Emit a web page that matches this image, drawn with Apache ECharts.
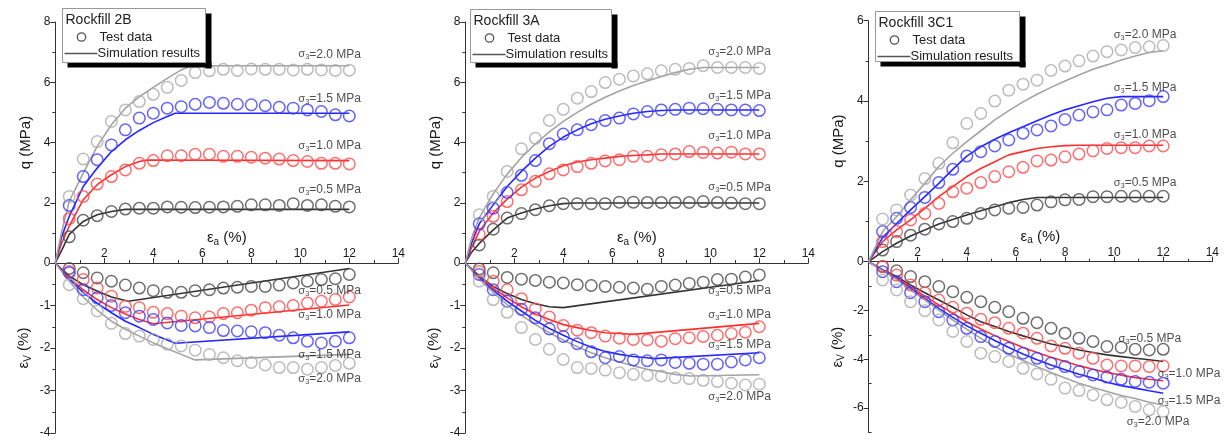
<!DOCTYPE html>
<html><head><meta charset="utf-8">
<script src="https://cdn.jsdelivr.net/npm/echarts@6/dist/echarts.min.js"></script>
<style>html,body{margin:0;padding:0;background:#fff}#c{width:1224px;height:441px}</style>
</head><body><div id="c"></div>
<script>
// ---------- DATA ----------
const strain = [0.57,1.14,1.71,2.29,2.86,3.43,4.00,4.57,5.14,5.71,6.29,6.86,7.43,8.00,8.57,9.14,9.71,10.29,10.86,11.43,12.00];
const pressures = ['0.5','1.0','1.5','2.0'];
const panelTitles = ['Rockfill 2B','Rockfill 3A','Rockfill 3C1'];

// Rockfill 2B — test data
const q2B_05 = [0.87,1.42,1.57,1.71,1.79,1.82,1.82,1.86,1.85,1.84,1.85,1.86,1.88,1.93,1.93,1.91,1.97,1.91,1.93,1.88,1.86];
const q2B_10 = [1.47,2.21,2.62,2.87,3.09,3.31,3.40,3.56,3.56,3.61,3.61,3.54,3.54,3.51,3.48,3.45,3.40,3.37,3.31,3.31,3.29];
const q2B_15 = [1.91,2.87,3.43,3.92,4.42,4.81,4.97,5.14,5.19,5.27,5.33,5.30,5.27,5.25,5.22,5.17,5.14,5.08,5.03,4.92,4.88];
const q2B_20 = [2.21,3.45,4.03,4.70,5.08,5.36,5.60,5.83,6.06,6.32,6.38,6.43,6.39,6.44,6.43,6.43,6.41,6.43,6.41,6.39,6.40];
const ev2B_05 = [-0.13,-0.23,-0.35,-0.43,-0.52,-0.59,-0.65,-0.69,-0.69,-0.65,-0.63,-0.59,-0.57,-0.55,-0.55,-0.52,-0.47,-0.43,-0.39,-0.37,-0.27];
const ev2B_10 = [-0.20,-0.39,-0.59,-0.78,-1.02,-1.05,-1.16,-1.19,-1.25,-1.29,-1.27,-1.19,-1.17,-1.11,-1.05,-1.03,-1.00,-0.94,-0.90,-0.86,-0.80];
const ev2B_15 = [-0.23,-0.63,-0.82,-1.00,-1.17,-1.25,-1.33,-1.41,-1.47,-1.48,-1.52,-1.59,-1.60,-1.62,-1.64,-1.70,-1.76,-1.84,-1.88,-1.84,-1.76];
const ev2B_20 = [-0.51,-0.84,-1.13,-1.42,-1.66,-1.72,-1.80,-1.91,-1.95,-2.05,-2.15,-2.23,-2.30,-2.34,-2.40,-2.46,-2.46,-2.50,-2.46,-2.41,-2.36];
// Rockfill 2B — simulation
const simQ2B_05 = [[0,0],[0.25,0.4],[0.57,0.95],[1.14,1.38],[1.71,1.60],[2.29,1.71],[2.86,1.78],[12,1.78]];
const simQ2B_10 = [[0,0],[0.25,0.65],[0.57,1.22],[1.14,2.10],[1.71,2.60],[2.29,2.93],[2.86,3.20],[3.43,3.37],[3.75,3.42],[12,3.40]];
const simQ2B_15 = [[0,0],[0.25,0.85],[0.57,1.55],[1.14,2.54],[1.71,3.15],[2.29,3.70],[2.86,4.09],[3.43,4.40],[4.0,4.66],[4.57,4.86],[4.9,4.97],[12,4.97]];
const simQ2B_20 = [[0,0],[0.25,1.0],[0.57,2.05],[1.14,2.98],[1.71,3.87],[2.29,4.59],[2.86,5.14],[3.43,5.52],[4.0,5.83],[4.57,6.13],[5.14,6.41],[5.55,6.55],[12,6.55]];
const simEv2B_05 = [[0,0],[0.57,-0.31],[1.14,-0.51],[1.71,-0.66],[2.29,-0.80],[2.98,-0.90],[12,-0.13]];
const simEv2B_10 = [[0,0],[0.57,-0.35],[1.14,-0.63],[1.71,-0.86],[2.29,-1.05],[2.86,-1.20],[3.43,-1.33],[4.0,-1.43],[12,-0.99]];
const simEv2B_15 = [[0,0],[0.57,-0.38],[1.14,-0.69],[1.71,-0.95],[2.29,-1.17],[2.86,-1.37],[3.43,-1.52],[4.0,-1.68],[4.57,-1.81],[4.9,-1.89],[12,-1.62]];
const simEv2B_20 = [[0,0],[0.57,-0.43],[1.14,-0.80],[1.71,-1.11],[2.29,-1.37],[2.86,-1.56],[3.43,-1.72],[4.0,-1.88],[4.57,-2.02],[5.14,-2.15],[5.7,-2.28],[12,-2.15]];

// Rockfill 3A — test data
const q3A_05 = [0.60,1.12,1.49,1.64,1.77,1.90,1.97,1.97,1.97,1.97,2.02,2.02,2.01,2.01,2.01,2.01,2.04,2.01,1.99,1.97,1.97];
const q3A_10 = [0.95,1.55,2.04,2.43,2.71,2.96,3.09,3.20,3.31,3.39,3.43,3.54,3.54,3.59,3.62,3.70,3.67,3.65,3.68,3.62,3.62];
const q3A_15 = [1.30,1.82,2.34,2.91,3.40,3.96,4.28,4.42,4.59,4.73,4.81,4.95,5.03,5.08,5.10,5.14,5.12,5.10,5.08,5.08,5.06];
const q3A_20 = [1.60,2.21,3.04,3.79,4.14,4.73,5.10,5.47,5.69,5.99,6.10,6.21,6.28,6.38,6.43,6.46,6.55,6.49,6.49,6.49,6.46];
const ev3A_05 = [-0.14,-0.23,-0.34,-0.38,-0.41,-0.45,-0.47,-0.51,-0.53,-0.55,-0.57,-0.59,-0.62,-0.55,-0.52,-0.48,-0.45,-0.39,-0.38,-0.33,-0.28];
const ev3A_10 = [-0.20,-0.43,-0.63,-0.84,-1.08,-1.27,-1.47,-1.58,-1.64,-1.72,-1.77,-1.80,-1.81,-1.84,-1.78,-1.76,-1.73,-1.70,-1.66,-1.63,-1.50];
const ev3A_15 = [-0.27,-0.63,-0.90,-1.09,-1.29,-1.55,-1.73,-1.90,-2.09,-2.23,-2.20,-2.28,-2.30,-2.28,-2.34,-2.36,-2.38,-2.38,-2.33,-2.28,-2.23];
const ev3A_20 = [-0.43,-0.86,-1.16,-1.52,-1.80,-2.03,-2.27,-2.46,-2.48,-2.52,-2.58,-2.62,-2.64,-2.66,-2.70,-2.72,-2.76,-2.79,-2.83,-2.87,-2.85];
// Rockfill 3A — simulation
const simQ3A_05 = [[0,0],[0.25,0.35],[0.57,0.65],[1.14,1.10],[1.71,1.49],[2.29,1.66],[2.86,1.79],[3.43,1.90],[4.0,1.97],[4.5,1.99],[12,1.99]];
const simQ3A_10 = [[0,0],[0.25,0.5],[0.57,1.05],[1.14,1.66],[1.71,2.12],[2.29,2.52],[2.86,2.82],[3.43,3.04],[4.0,3.23],[4.57,3.35],[5.14,3.43],[5.71,3.48],[6.29,3.54],[6.86,3.57],[7.43,3.59],[8.0,3.62],[12,3.62]];
const simQ3A_15 = [[0,0],[0.25,0.65],[0.57,1.30],[1.14,1.93],[1.71,2.54],[2.29,3.04],[2.86,3.48],[3.43,3.87],[4.0,4.18],[4.57,4.42],[5.14,4.62],[5.71,4.77],[6.29,4.88],[6.86,4.97],[7.43,5.03],[8.0,5.06],[8.57,5.08],[12,5.08]];
const simQ3A_20 = [[0,0],[0.25,0.8],[0.57,1.5],[1.14,2.3],[1.71,2.95],[2.29,3.5],[2.86,3.95],[3.43,4.35],[4.0,4.70],[4.57,5.0],[5.14,5.27],[5.71,5.5],[6.29,5.71],[6.86,5.89],[7.43,6.04],[8.0,6.19],[8.57,6.32],[9.14,6.43],[9.71,6.49],[12,6.49]];
const simEv3A_05 = [[0,0],[0.57,-0.31],[1.14,-0.55],[1.71,-0.72],[2.29,-0.86],[2.86,-0.96],[3.43,-1.03],[4.0,-1.05],[12,-0.41]];
const simEv3A_10 = [[0,0],[0.57,-0.33],[1.14,-0.59],[1.71,-0.82],[2.29,-1.03],[2.86,-1.20],[3.43,-1.33],[4.0,-1.45],[4.57,-1.52],[5.14,-1.59],[5.71,-1.64],[6.29,-1.66],[6.86,-1.68],[12,-1.42]];
const simEv3A_15 = [[0,0],[0.57,-0.35],[1.14,-0.64],[1.71,-0.90],[2.29,-1.13],[2.86,-1.35],[3.43,-1.54],[4.0,-1.70],[4.57,-1.85],[5.14,-1.98],[5.71,-2.08],[6.29,-2.15],[6.86,-2.20],[7.43,-2.23],[7.7,-2.25],[12,-2.11]];
const simEv3A_20 = [[0,0],[0.57,-0.38],[1.14,-0.69],[1.71,-0.98],[2.29,-1.23],[2.86,-1.45],[3.43,-1.64],[4.0,-1.81],[4.57,-1.97],[5.14,-2.11],[5.71,-2.23],[6.29,-2.33],[6.86,-2.42],[7.43,-2.50],[8.0,-2.56],[8.57,-2.62],[9.2,-2.66],[12,-2.63]];

// Rockfill 3C1 — test data
const q3C1_05 = [0.29,0.50,0.66,0.81,0.94,1.00,1.08,1.20,1.29,1.33,1.35,1.41,1.49,1.54,1.55,1.62,1.62,1.63,1.63,1.63,1.63];
const q3C1_10 = [0.50,0.75,1.04,1.20,1.45,1.74,1.83,1.97,2.12,2.24,2.35,2.51,2.53,2.61,2.68,2.76,2.82,2.84,2.84,2.88,2.88];
const q3C1_15 = [0.75,1.08,1.35,1.60,1.97,2.30,2.63,2.74,2.88,3.03,3.20,3.28,3.38,3.54,3.65,3.73,3.78,3.90,3.94,4.01,4.11];
const q3C1_20 = [1.06,1.29,1.66,2.07,2.45,2.96,3.44,3.69,4.00,4.27,4.42,4.52,4.76,4.87,5.00,5.12,5.23,5.27,5.33,5.35,5.38];
const ev3C1_05 = [-0.20,-0.37,-0.61,-0.82,-1.02,-1.23,-1.46,-1.64,-1.87,-2.05,-2.32,-2.50,-2.73,-2.93,-3.14,-3.27,-3.48,-3.51,-3.59,-3.62,-3.59];
const ev3C1_10 = [-0.20,-0.55,-0.95,-1.27,-1.57,-1.87,-2.11,-2.36,-2.50,-2.73,-2.93,-3.14,-3.45,-3.55,-3.75,-3.96,-4.23,-4.27,-4.27,-4.30,-4.27];
const ev3C1_15 = [-0.41,-0.82,-1.27,-1.64,-2.05,-2.39,-2.73,-3.07,-3.27,-3.55,-3.75,-3.96,-4.16,-4.30,-4.50,-4.64,-4.73,-4.82,-4.91,-4.94,-4.98];
const ev3C1_20 = [-0.75,-1.16,-1.64,-2.01,-2.39,-2.86,-3.27,-3.75,-3.89,-4.09,-4.37,-4.60,-4.82,-5.18,-5.28,-5.46,-5.66,-5.77,-5.93,-6.07,-6.14];
// Rockfill 3C1 — simulation
const simQ3C1_05 = [[0,0],[0.57,0.25],[1.14,0.46],[1.71,0.64],[2.29,0.79],[2.86,0.94],[3.43,1.05],[4.0,1.16],[4.57,1.27],[5.14,1.37],[5.71,1.47],[6.29,1.55],[6.86,1.60],[12,1.60]];
const simQ3C1_10 = [[0,0],[0.57,0.5],[1.14,0.79],[1.71,1.04],[2.29,1.33],[2.86,1.62],[3.43,1.87],[4.0,2.12],[4.57,2.32],[5.14,2.49],[5.71,2.66],[6.29,2.74],[6.86,2.82],[7.43,2.86],[8.0,2.89],[8.57,2.90],[12,2.90]];
const simQ3C1_15 = [[0,0],[0.57,0.6],[1.14,0.95],[1.71,1.29],[2.29,1.62],[2.86,1.95],[3.43,2.30],[4.0,2.63],[4.57,2.86],[5.14,3.05],[5.71,3.21],[6.29,3.36],[6.86,3.51],[7.43,3.65],[8.0,3.78],[8.57,3.88],[9.14,3.98],[9.71,4.07],[10.29,4.11],[12,4.11]];
const simQ3C1_20 = [[0,0],[0.57,0.75],[1.14,1.12],[1.71,1.54],[2.29,1.95],[2.86,2.37],[3.43,2.70],[4.0,2.99],[4.57,3.26],[5.14,3.53],[5.71,3.76],[6.29,3.98],[6.86,4.17],[7.43,4.34],[8.0,4.50],[8.57,4.65],[9.14,4.79],[9.71,4.90],[10.29,5.02],[10.86,5.12],[11.43,5.21],[12,5.25]];
const simEv3C1_05 = [[0,0],[0.57,-0.34],[1.14,-0.61],[1.71,-0.95],[2.29,-1.27],[2.86,-1.57],[3.43,-1.87],[4.0,-2.18],[4.57,-2.46],[5.14,-2.66],[5.71,-2.86],[6.29,-3.04],[6.86,-3.21],[7.43,-3.37],[8.0,-3.48],[8.57,-3.62],[9.14,-3.72],[9.71,-3.82],[10.29,-3.89],[10.86,-3.96],[11.43,-4.02],[12,-4.09]];
const simEv3C1_10 = [[0,0],[0.57,-0.34],[1.14,-0.64],[1.71,-1.02],[2.29,-1.41],[2.86,-1.77],[3.43,-2.11],[4.0,-2.46],[4.57,-2.76],[5.14,-3.03],[5.71,-3.27],[6.29,-3.52],[6.86,-3.72],[7.43,-3.92],[8.0,-4.09],[8.57,-4.26],[9.14,-4.41],[9.71,-4.54],[10.29,-4.65],[10.86,-4.75],[11.43,-4.82],[12,-4.88]];
const simEv3C1_15 = [[0,0],[0.57,-0.34],[1.14,-0.68],[1.71,-1.09],[2.29,-1.50],[2.86,-1.91],[3.43,-2.28],[4.0,-2.63],[4.57,-2.93],[5.14,-3.23],[5.71,-3.52],[6.29,-3.78],[6.86,-4.02],[7.43,-4.23],[8.0,-4.43],[8.57,-4.61],[9.14,-4.77],[9.71,-4.94],[10.29,-5.08],[10.86,-5.18],[11.43,-5.29],[12,-5.39]];
const simEv3C1_20 = [[0,0],[0.57,-0.37],[1.14,-0.72],[1.71,-1.16],[2.29,-1.57],[2.86,-1.98],[3.43,-2.39],[4.0,-2.77],[4.57,-3.14],[5.14,-3.48],[5.71,-3.78],[6.29,-4.05],[6.86,-4.30],[7.43,-4.54],[8.0,-4.77],[8.57,-4.98],[9.14,-5.16],[9.71,-5.32],[10.29,-5.48],[10.86,-5.61],[11.43,-5.76],[12,-5.87]];

// sigma_3 label anchors (data coordinates), order: 0.5, 1.0, 1.5, 2.0
const labelsQ2B  = [[11.2,2.42],[11.2,3.90],[11.2,5.45],[11.2,6.93]];
const labelsEv2B = [[11.2,-0.65],[11.2,-1.22],[11.2,-2.16],[11.2,-2.73]];
const labelsQ3A  = [[11.2,2.51],[11.2,4.22],[11.2,5.56],[11.2,7.02]];
const labelsEv3A = [[11.2,-0.65],[11.2,-1.22],[11.2,-1.92],[11.2,-3.15]];
const labelsQ3C1  = [[11.26,1.96],[11.26,3.15],[11.26,4.33],[11.26,5.64]];
const labelsEv3C1 = [[11.46,-3.17],[13.05,-4.60],[13.05,-5.69],[11.79,-6.55]];

// ---------- BUILD ----------
const panels = [
  {qTest:[q2B_05,q2B_10,q2B_15,q2B_20], evTest:[ev2B_05,ev2B_10,ev2B_15,ev2B_20],
   qSim:[simQ2B_05,simQ2B_10,simQ2B_15,simQ2B_20], evSim:[simEv2B_05,simEv2B_10,simEv2B_15,simEv2B_20],
   qLab:labelsQ2B, evLab:labelsEv2B, qMax:8, qInt:2, evMin:-4, evInt:1},
  {qTest:[q3A_05,q3A_10,q3A_15,q3A_20], evTest:[ev3A_05,ev3A_10,ev3A_15,ev3A_20],
   qSim:[simQ3A_05,simQ3A_10,simQ3A_15,simQ3A_20], evSim:[simEv3A_05,simEv3A_10,simEv3A_15,simEv3A_20],
   qLab:labelsQ3A, evLab:labelsEv3A, qMax:8, qInt:2, evMin:-4, evInt:1},
  {qTest:[q3C1_05,q3C1_10,q3C1_15,q3C1_20], evTest:[ev3C1_05,ev3C1_10,ev3C1_15,ev3C1_20],
   qSim:[simQ3C1_05,simQ3C1_10,simQ3C1_15,simQ3C1_20], evSim:[simEv3C1_05,simEv3C1_10,simEv3C1_15,simEv3C1_20],
   qLab:labelsQ3C1, evLab:labelsEv3C1, qMax:6, qInt:2, evMin:-7, evInt:2, custom:true}
];
const layout = [
  {left:55.3, width:343, top:22, hTop:241, hBot:170, box:[62.5,8.5,143,54]},
  {left:465.3, width:343, top:22, hTop:241, hBot:170, box:[470.5,9.5,141,53]},
  {left:868.6, width:343.7, top:20.7, hTop:241, hBot:170.8, box:[875.5,11.5,144,50]}
];
const lineColors = {'0.5':'#333333','1.0':'#ff2f2f','1.5':'#2626ff','2.0':'#a3a3a3'};
const dotColors  = {'0.5':'#4a4a4a','1.0':'#ff4a4a','1.5':'#3c3cff','2.0':'#ababab'};
const FONT = 'Liberation Sans, Arial, sans-serif';
const axisColor = '#333';
const txt = '#1a1a1a';

const grid = [], xAxis = [], yAxis = [], series = [], graphic = [];
const sigmaRich = {
  g:{fontSize:11, color:'#222', fontFamily:FONT, verticalAlign:'middle', lineHeight:14},
  s:{fontSize:7.5, color:'#222', fontFamily:FONT, verticalAlign:'bottom', lineHeight:9},
  t:{fontSize:12, color:'#222', fontFamily:FONT, verticalAlign:'middle', lineHeight:14}
};
const epsRich = {
  e:{fontSize:15, color:txt, fontFamily:FONT, lineHeight:18},
  s:{fontSize:10, color:txt, fontFamily:FONT, verticalAlign:'bottom', lineHeight:10}
};

panels.forEach((p, pi) => {
  const L = layout[pi];
  const gTop = pi*2, gBot = pi*2+1;
  grid.push({left:L.left, top:L.top, width:L.width, height:L.hTop});
  grid.push({left:L.left, top:L.top+L.hTop, width:L.width, height:L.hBot});
  // x axes: top grid axis hidden, the shared strain axis drawn at the top of the lower grid (value 0)
  xAxis.push({gridIndex:gTop, type:'value', min:0, max:14, show:false, splitLine:{show:false}});
  xAxis.push({gridIndex:gBot, type:'value', min:0, max:14, interval:2, position:'top',
    name:'{e|ε}{s|a}{e| (%)}', nameLocation:'middle', nameGap:16,
    nameTextStyle:{rich:epsRich},
    axisLine:{lineStyle:{color:axisColor, width:1}},
    axisTick:{length:5, lineStyle:{color:axisColor}},
    minorTick:{show:true, splitNumber:2, length:3, lineStyle:{color:axisColor}},
    axisLabel:{margin:3, showMinLabel:false, fontSize:12, color:txt, fontFamily:FONT},
    splitLine:{show:false}});
  // y axes
  yAxis.push({gridIndex:gTop, type:'value', min:0, max:p.qMax, interval:p.qInt,
    name:'q (MPa)', nameLocation:'middle', nameGap:22,
    nameTextStyle:{fontSize:15, color:txt, fontFamily:FONT},
    axisLine:{show:true, lineStyle:{color:axisColor}},
    axisTick:{length:5, lineStyle:{color:axisColor}},
    minorTick:{show:true, splitNumber:2, length:3, lineStyle:{color:axisColor}},
    axisLabel:{showMinLabel:false, margin:5, fontSize:12, color:txt, fontFamily:FONT},
    splitLine:{show:false}});
  const evAxis = {gridIndex:gBot, type:'value', min:p.evMin, max:0,
    name:'{e|ε}{s|V}{e| (%)}', nameLocation:'middle', nameGap:22,
    nameTextStyle:{rich:epsRich},
    axisLine:{show:true, onZero:false, lineStyle:{color:axisColor}},
    axisTick:{length:5, lineStyle:{color:axisColor}},
    axisLabel:{margin:5, fontSize:12, color:txt, fontFamily:FONT},
    splitLine:{show:false}};
  if (p.custom) {
    const major = [-6,-4,-2,0];
    evAxis.axisTick.customValues = major;
    evAxis.axisLabel.customValues = major;
  } else {
    evAxis.interval = p.evInt;
    evAxis.minorTick = {show:true, splitNumber:2, length:3, lineStyle:{color:axisColor}};
  }
  yAxis.push(evAxis);
  const yTopIdx = yAxis.length-2, yBotIdx = yAxis.length-1;
  if (p.custom) {
    yAxis.push({gridIndex:gBot, type:'value', min:p.evMin, max:0,
      axisLine:{show:false}, axisLabel:{show:false}, splitLine:{show:false},
      axisTick:{show:true, length:3, customValues:[-7,-5,-3,-1], lineStyle:{color:axisColor}}});
  }
  // series
  pressures.forEach((pr, i) => {
    const lc = lineColors[pr], dc = dotColors[pr];
    series.push({type:'line', xAxisIndex:gTop, yAxisIndex:yTopIdx, data:p.qSim[i], showSymbol:false, silent:true,
      lineStyle:{color:lc, width:1.6}, z:2});
    series.push({type:'line', xAxisIndex:gBot, yAxisIndex:yBotIdx, data:p.evSim[i], showSymbol:false, silent:true,
      lineStyle:{color:lc, width:1.6}, z:2});
    series.push({type:'scatter', xAxisIndex:gTop, yAxisIndex:yTopIdx, symbol:'circle', symbolSize:11.5,
      data:strain.map((x,k)=>[x,p.qTest[i][k]]),
      itemStyle:{color:'rgba(0,0,0,0)', borderColor:dc, borderWidth:1.5}, z:3});
    series.push({type:'scatter', xAxisIndex:gBot, yAxisIndex:yBotIdx, symbol:'circle', symbolSize:11.5,
      data:strain.map((x,k)=>[x,p.evTest[i][k]]),
      itemStyle:{color:'rgba(0,0,0,0)', borderColor:dc, borderWidth:1.5}, z:3});
    const lab = '{g|σ}{s|3}{t|=' + pr + ' MPa}';
    [[gTop,yTopIdx,p.qLab[i]],[gBot,yBotIdx,p.evLab[i]]].forEach(([g,y,a]) => {
      series.push({type:'scatter', xAxisIndex:g, yAxisIndex:y, symbolSize:0, silent:true, z:5,
        data:[{value:a, name:lab}],
        label:{show:true, position:'inside', formatter:(d)=>d.name, rich:sigmaRich}});
    });
  });
  // legend box with a solid black drop shadow (right and bottom bands)
  const [bx,by,bw,bh] = L.box;
  graphic.push({type:'rect', z:20, silent:true,
    shape:{x:bx+bw, y:by+5, width:6, height:bh+1}, style:{fill:'#000'}});
  graphic.push({type:'rect', z:20, silent:true,
    shape:{x:bx+5, y:by+bh, width:bw+1, height:5}, style:{fill:'#000'}});
  graphic.push({type:'rect', z:21, silent:true, shape:{x:bx,y:by,width:bw,height:bh},
    style:{fill:'#fff', stroke:'#999', lineWidth:1}});
  graphic.push({type:'text', z:22, x:bx+3, y:by+11.5,
    style:{text:panelTitles[pi], fontSize:14, fontFamily:FONT, fill:'#222', textVerticalAlign:'middle'}});
  graphic.push({type:'circle', z:22, shape:{cx:bx+19, cy:by+28.5, r:4.2},
    style:{fill:'none', stroke:'#555', lineWidth:1.3}});
  graphic.push({type:'text', z:22, x:bx+37, y:by+28.5,
    style:{text:'Test data', fontSize:13, fontFamily:FONT, fill:'#222', textVerticalAlign:'middle'}});
  graphic.push({type:'line', z:22, shape:{x1:bx+2, y1:by+45, x2:bx+35, y2:by+45},
    style:{stroke:'#555', lineWidth:1.3}});
  graphic.push({type:'text', z:22, x:bx+35, y:by+45,
    style:{text:'Simulation results', fontSize:13, fontFamily:FONT, fill:'#222', textVerticalAlign:'middle'}});
});

const chart = echarts.init(document.getElementById('c'), null, {renderer:'canvas'});
chart.setOption({
  animation:false,
  backgroundColor:'#fff',
  textStyle:{fontFamily:FONT},
  grid, xAxis, yAxis, series, graphic
});
</script></body></html>
